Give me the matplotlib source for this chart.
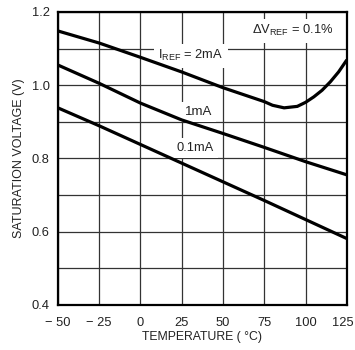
import matplotlib; matplotlib.use("Agg")
import matplotlib.pyplot as plt
from matplotlib import font_manager
from matplotlib.transforms import ScaledTranslation

# pick a narrow sans face if one is there
names = {f.name for f in font_manager.fontManager.ttflist}
fam = "Liberation Sans Narrow" if "Liberation Sans Narrow" in names else "Liberation Sans"
plt.rcParams["font.family"] = [fam, "DejaVu Sans"]
plt.rcParams["mathtext.fontset"] = "custom"
plt.rcParams["mathtext.rm"] = fam
plt.rcParams["mathtext.it"] = fam
plt.rcParams["mathtext.default"] = "regular"

# saturation voltage (V) vs temperature (degC)
temp_2ma = [-50, -25, 0, 25, 50, 75, 80, 87, 95, 100, 105, 110, 115, 120, 125]
v_2ma = [1.148, 1.115, 1.076, 1.036, 0.993, 0.955, 0.945, 0.938, 0.942,
         0.953, 0.968, 0.986, 1.009, 1.036, 1.069]
temp_1ma = [-50, -25, 0, 25, 50, 75, 100, 125]
v_1ma = [1.055, 1.005, 0.951, 0.905, 0.868, 0.830, 0.791, 0.755]
temp_01ma = [-50, -25, 0, 25, 50, 75, 100, 125]
v_01ma = [0.938, 0.889, 0.838, 0.787, 0.736, 0.685, 0.633, 0.581]

xticks = [-50, -25, 0, 25, 50, 75, 100, 125]
xticklabels = ["\u2212 50", "\u2212 25", "0", "25", "50", "75", "100", "125"]
yticks = [0.4, 0.5, 0.6, 0.7, 0.8, 0.9, 1.0, 1.1, 1.2]
yticklabels = ["0.4", "", "0.6", "", "0.8", "", "1.0", "", "1.2"]

fig = plt.figure(figsize=(3.55, 3.5), dpi=100)
ax = fig.add_axes([0.163, 0.129, 0.814, 0.837])

for t, v in [(temp_2ma, v_2ma), (temp_1ma, v_1ma), (temp_01ma, v_01ma)]:
    ax.plot(t, v, color="black", lw=2.3, solid_capstyle="butt", zorder=4)

ax.set_xlim(-50, 125)
ax.set_ylim(0.4, 1.2)
ax.set_xticks(xticks)
ax.set_xticklabels(xticklabels)
ax.set_yticks(yticks)
ax.set_yticklabels(yticklabels)
ax.tick_params(length=0, labelsize=9.3, colors="#222")
ax.tick_params(axis="x", pad=9)
ax.tick_params(axis="y", pad=6)
ax.grid(True, color="#333", lw=0.9)
ax.set_axisbelow(True)
for sp in ax.spines.values():
    sp.set_linewidth(1.6)
    sp.set_zorder(5)
# last x label sits hard against the right edge, nudge it in a bit
lab = ax.get_xticklabels()[-1]
lab.set_transform(lab.get_transform() + ScaledTranslation(-4/100, 0, fig.dpi_scale_trans))

ax.set_xlabel("TEMPERATURE ( \u00b0C)", fontsize=8.8, color="#222", labelpad=1)
ax.set_ylabel("SATURATION VOLTAGE (V)", fontsize=9, color="#222", labelpad=5)

box = dict(facecolor="white", edgecolor="none", pad=3)
ax.text(30.5, 1.08, "I$_{REF}$ = 2mA", fontsize=9.3, ha="center", va="center",
        color="#222", bbox=box, zorder=3)
ax.text(35, 0.927, "1mA", fontsize=9.5, ha="center", va="center",
        color="#222", bbox=box, zorder=3)
ax.text(33, 0.828, "0.1mA", fontsize=9.3, ha="center", va="center",
        color="#222", bbox=box, zorder=3)
ax.text(117, 1.148, "\u0394V$_{REF}$ = 0.1%", fontsize=9.3, ha="right", va="center",
        color="#222", bbox=box, zorder=3)

fig.savefig("out.png", dpi=100, facecolor="white")
